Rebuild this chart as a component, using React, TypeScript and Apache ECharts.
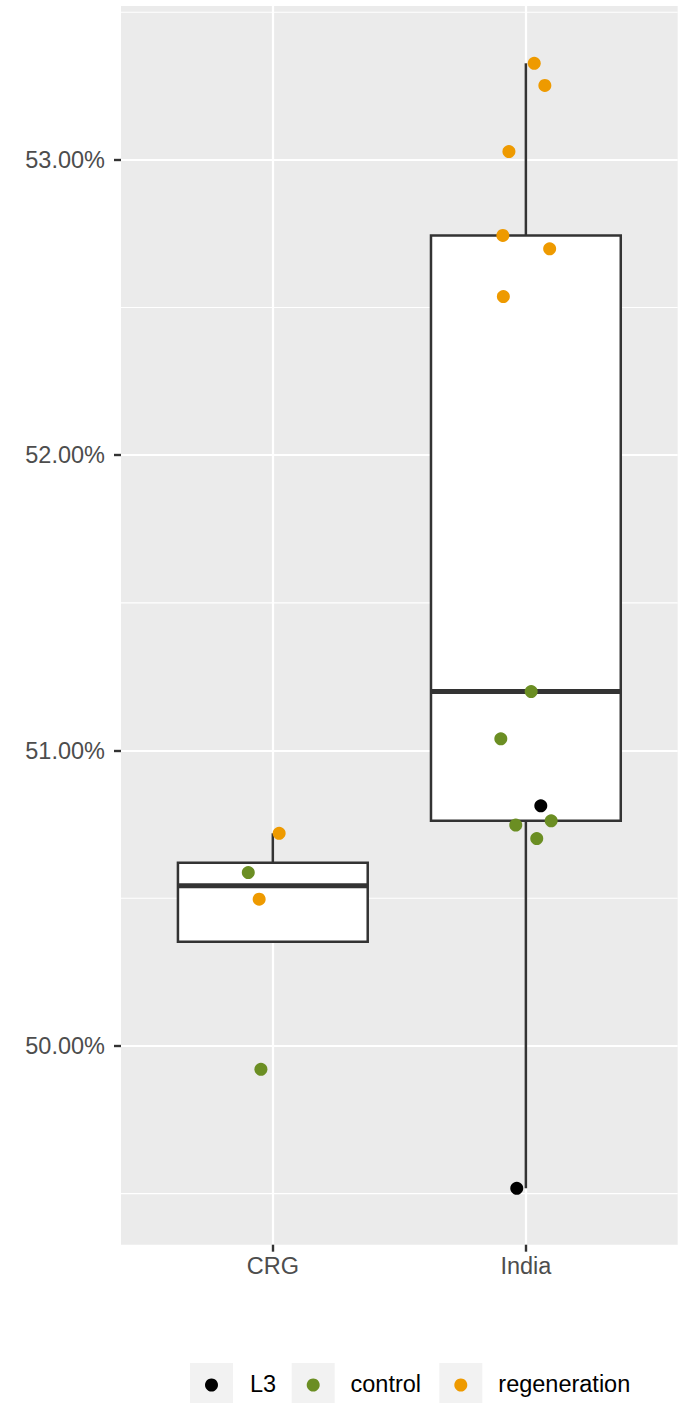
import React, { useEffect, useRef } from "react";
import * as echarts from "echarts";

// ---- axes ----
const categories = ["CRG", "India"];
const categoryPositions = [1, 2];
const xLimits = [0.4, 2.6];
const yLimits = [49.327, 53.521];
const yTicks = [50, 51, 52, 53];
const yMinorBreaks = [49.5, 50.5, 51.5, 52.5, 53.5];

// ---- box statistics (percent) ----
const boxLower = [50.353, 49.518];
const boxQ1 = [50.353, 50.762];
const boxMedian = [50.542, 51.2];
const boxQ3 = [50.62, 52.744];
const boxUpper = [50.72, 53.327];

// ---- jittered points ----
const l3Category = ["India", "India"];
const l3Jitter = [0.059, -0.036];
const l3Values = [50.813, 49.518];

const controlCategory = ["CRG", "CRG", "India", "India", "India", "India", "India"];
const controlJitter = [-0.097, -0.047, 0.021, -0.099, 0.1, -0.04, 0.043];
const controlValues = [50.587, 49.921, 51.2, 51.04, 50.762, 50.748, 50.702];

const regenCategory = ["CRG", "CRG", "India", "India", "India", "India", "India", "India"];
const regenJitter = [0.025, -0.054, 0.033, 0.075, -0.067, -0.091, 0.094, -0.089];
const regenValues = [50.72, 50.497, 53.327, 53.252, 53.028, 52.744, 52.699, 52.537];

const seriesNames = ["L3", "control", "regeneration"];
const seriesColors = ["#000000", "#6B8E23", "#EE9A00"];

const FONT = "'Liberation Sans', Arial, Helvetica, sans-serif";

function toPoints(cats: string[], jit: number[], vals: number[]) {
  return vals.map((v, i) => [categoryPositions[categories.indexOf(cats[i])] + jit[i], v]);
}

export default function App() {
  const ref = useRef<HTMLDivElement>(null);

  useEffect(() => {
    if (!ref.current) return;
    const chart = echarts.init(ref.current, undefined, { renderer: "svg" });

    const boxData = categories.map((_, i) => [
      categoryPositions[i],
      boxLower[i],
      boxQ1[i],
      boxMedian[i],
      boxQ3[i],
      boxUpper[i],
    ]);

    // legend layout (drawn as graphic elements, ggplot style keys)
    const keyLefts = [190, 291.7, 439.3];
    const textLefts = [250, 350.5, 498.3];
    const keyTop = 1363;
    const keyW = 43;
    const keyH = 40;
    const legendElements: any[] = [];
    seriesNames.forEach((name, i) => {
      legendElements.push({
        type: "rect",
        left: keyLefts[i],
        top: keyTop,
        shape: { width: keyW, height: keyH },
        style: { fill: "#F2F2F2" },
        silent: true,
        z: 1,
      });
      legendElements.push({
        type: "circle",
        shape: { cx: keyLefts[i] + keyW / 2, cy: 1385, r: 6.5 },
        style: { fill: seriesColors[i] },
        silent: true,
        z: 2,
      });
      legendElements.push({
        type: "text",
        x: textLefts[i],
        y: 1384,
        style: {
          text: name,
          fontSize: 23.5,
          fontFamily: FONT,
          fill: "#000000",
          align: "left",
          verticalAlign: "middle",
        },
        silent: true,
        z: 2,
      });
    });

    const option: any = {
      animation: false,
      backgroundColor: "#ffffff",
      grid: {
        left: 121,
        right: 10.3,
        top: 6,
        bottom: 158.3,
        show: true,
        backgroundColor: "#EBEBEB",
        borderWidth: 0,
      },
      xAxis: {
        type: "value",
        min: xLimits[0],
        max: xLimits[1],
        axisLine: { show: false },
        axisTick: {
          show: true,
          length: 7,
          customValues: categoryPositions,
          lineStyle: { color: "#333333", width: 2.4 },
        },
        axisLabel: {
          customValues: categoryPositions,
          margin: 9,
          fontSize: 23.5,
          fontFamily: FONT,
          color: "#4D4D4D",
          formatter: (v: number) => categories[categoryPositions.indexOf(Math.round(v))] ?? "",
        },
        splitLine: { show: true, lineStyle: { color: "#FFFFFF", width: 2.2 } },
      },
      yAxis: {
        type: "value",
        min: yLimits[0],
        max: yLimits[1],
        axisLine: { show: false },
        axisTick: {
          show: true,
          length: 7,
          customValues: yTicks,
          lineStyle: { color: "#333333", width: 2.4 },
        },
        axisLabel: {
          customValues: yTicks,
          margin: 16,
          fontSize: 23.5,
          fontFamily: FONT,
          color: "#4D4D4D",
          formatter: (v: number) => v.toFixed(2) + "%",
        },
        splitLine: { show: true, lineStyle: { color: "#FFFFFF", width: 2.2 } },
      },
      graphic: legendElements,
      series: [
        {
          type: "custom",
          name: "minorGrid",
          silent: true,
          z: 1,
          data: yMinorBreaks.map((v) => [xLimits[0], v]),
          encode: { x: 0, y: 1 },
          renderItem: (params: any, api: any) => {
            const cs = params.coordSys;
            const y = api.coord([api.value(0), api.value(1)])[1];
            return {
              type: "line",
              shape: { x1: cs.x, y1: y, x2: cs.x + cs.width, y2: y },
              style: { stroke: "#FFFFFF", lineWidth: 1.1 },
            };
          },
        },
        {
          type: "custom",
          name: "boxplot",
          silent: true,
          z: 2,
          data: boxData,
          encode: { x: 0, y: [1, 2, 3, 4, 5] },
          renderItem: (_params: any, api: any) => {
            const x = api.value(0);
            const lo = api.value(1);
            const q1 = api.value(2);
            const med = api.value(3);
            const q3 = api.value(4);
            const hi = api.value(5);
            const half = 0.375;
            const [xl, yq3] = api.coord([x - half, q3]);
            const [xr, yq1] = api.coord([x + half, q1]);
            const [xc, yhi] = api.coord([x, hi]);
            const ylo = api.coord([x, lo])[1];
            const ymed = api.coord([x, med])[1];
            const stroke = "#333333";
            return {
              type: "group",
              children: [
                { type: "line", shape: { x1: xc, y1: yq3, x2: xc, y2: yhi }, style: { stroke, lineWidth: 2.5 } },
                { type: "line", shape: { x1: xc, y1: yq1, x2: xc, y2: ylo }, style: { stroke, lineWidth: 2.5 } },
                {
                  type: "rect",
                  shape: { x: xl, y: yq3, width: xr - xl, height: yq1 - yq3 },
                  style: { fill: "#FFFFFF", stroke, lineWidth: 2.5 },
                },
                { type: "line", shape: { x1: xl, y1: ymed, x2: xr, y2: ymed }, style: { stroke, lineWidth: 5 } },
              ],
            };
          },
        },
        {
          type: "scatter",
          name: "L3",
          z: 3,
          symbol: "circle",
          symbolSize: 13,
          itemStyle: { color: seriesColors[0], opacity: 1 },
          data: toPoints(l3Category, l3Jitter, l3Values),
        },
        {
          type: "scatter",
          name: "control",
          z: 3,
          symbol: "circle",
          symbolSize: 13,
          itemStyle: { color: seriesColors[1], opacity: 1 },
          data: toPoints(controlCategory, controlJitter, controlValues),
        },
        {
          type: "scatter",
          name: "regeneration",
          z: 3,
          symbol: "circle",
          symbolSize: 13,
          itemStyle: { color: seriesColors[2], opacity: 1 },
          data: toPoints(regenCategory, regenJitter, regenValues),
        },
      ],
    };

    chart.setOption(option);
    return () => chart.dispose();
  }, []);

  return (
    <div
      ref={ref}
      style={{ position: "absolute", left: 0, top: 0, width: 688, height: 1403 }}
    />
  );
}
